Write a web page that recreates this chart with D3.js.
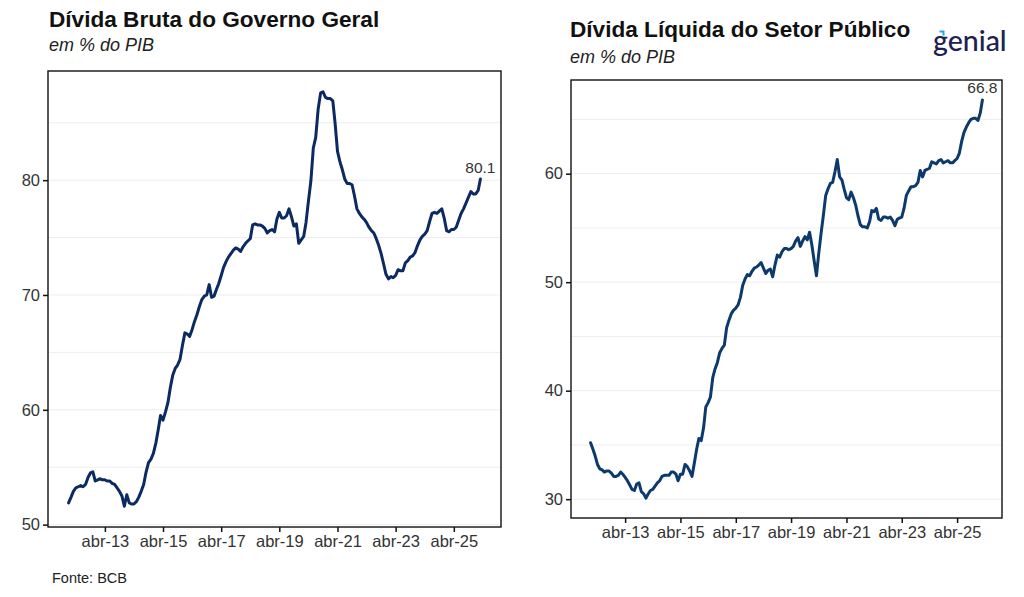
<!DOCTYPE html>
<html>
<head>
<meta charset="utf-8">
<script src="https://cdn.jsdelivr.net/npm/d3@7"></script>
<style>
  html, body { margin: 0; padding: 0; background: #fff; }
  svg { display: block; font-family: "Liberation Sans", Arial, sans-serif; }
</style>
</head>
<body>
<svg id="chart" width="1024" height="597"></svg>
<script>
// ---------- DATA ----------
const startMonth = new Date(2012, 0, 1);
const endMonthExclusive = new Date(2026, 3, 1);

const dividaBruta = [
  51.9,52.4,52.9,53.2,53.3,53.4,53.3,53.5,54.1,54.5,54.6,53.8,
  53.9,54.0,53.9,53.9,53.8,53.8,53.6,53.5,53.2,52.9,52.5,51.6,
  52.6,51.9,51.8,51.8,52.0,52.4,52.9,53.5,54.6,55.4,55.7,56.2,
  57.1,58.3,59.5,59.1,59.8,60.6,61.9,63.0,63.6,63.9,64.4,65.6,
  66.7,66.6,66.4,67.0,67.7,68.3,69.0,69.6,69.9,70.0,70.9,69.8,
  69.9,70.5,71.0,71.7,72.4,72.9,73.3,73.6,73.9,74.1,74.0,73.8,
  74.2,74.5,74.7,74.9,76.1,76.2,76.1,76.1,76.0,75.8,75.4,75.6,
  75.7,75.5,76.6,77.2,76.7,76.7,76.9,77.5,76.8,76.0,76.2,74.5,
  74.8,75.1,76.3,78.2,79.9,82.8,83.7,86.2,87.6,87.7,87.2,87.1,
  87.1,86.9,85.0,82.5,81.6,80.9,80.1,79.7,79.7,79.6,78.6,77.5,
  77.1,76.8,76.6,76.3,75.9,75.6,75.4,74.9,74.3,73.6,72.7,71.8,
  71.4,71.6,71.5,71.7,72.2,72.1,72.1,72.8,73.0,73.3,73.4,73.7,
  74.3,74.8,75.1,75.3,75.6,76.4,77.1,77.2,77.1,77.3,77.5,76.7,
  75.6,75.5,75.7,75.7,75.9,76.5,77.1,77.5,78.0,78.5,79.0,78.8,
  78.8,79.1,80.1
];

const dividaLiquida = [
  35.2,34.6,34.0,33.2,32.8,32.7,32.5,32.6,32.6,32.4,32.1,32.1,
  32.2,32.5,32.3,32.0,31.7,31.3,30.9,30.8,31.4,31.5,30.7,30.5,
  30.1,30.5,30.8,30.9,31.2,31.5,31.7,32.1,32.2,32.2,32.2,32.5,
  32.5,32.3,31.7,32.3,32.3,33.2,33.0,32.6,32.1,33.3,34.6,35.6,
  35.4,36.6,38.5,38.9,39.4,41.2,42.0,42.6,43.5,43.9,44.2,45.8,
  46.5,47.1,47.4,47.6,47.9,48.6,49.7,50.3,50.7,50.6,51.0,51.3,
  51.4,51.6,51.8,51.3,50.8,51.1,51.2,50.5,51.6,52.5,52.3,52.8,
  53.1,53.1,53.0,53.1,53.3,53.8,54.1,53.3,53.8,54.2,53.9,54.6,
  53.4,51.9,50.6,52.7,54.5,56.2,58.0,58.6,59.1,59.2,60.2,61.3,
  59.7,59.4,58.6,57.8,57.6,58.3,57.8,57.1,56.1,55.3,55.1,55.1,
  55.0,55.6,56.6,56.5,56.8,55.8,55.7,56.0,56.0,55.9,56.0,55.7,
  55.2,55.8,55.9,56.0,56.8,58.0,58.4,58.8,58.8,58.9,59.2,60.3,
  59.7,60.3,60.4,60.5,61.1,61.0,60.9,61.2,61.3,61.0,61.1,61.2,
  61.0,61.0,61.2,61.4,61.9,63.0,63.8,64.3,64.7,65.0,65.1,65.1,
  64.9,65.6,66.8
];

const xTickDates = ["2013-04","2015-04","2017-04","2019-04","2021-04","2023-04","2025-04"];
const xTickLabels = ["abr-13","abr-15","abr-17","abr-19","abr-21","abr-23","abr-25"];

const leftYTicks = [50, 60, 70, 80];
const leftYGrid = [50, 55, 60, 65, 70, 75, 80, 85];
const rightYTicks = [30, 40, 50, 60];
const rightYGrid = [30, 35, 40, 45, 50, 55, 60, 65];

const leftTitle = "Dívida Bruta do Governo Geral";
const rightTitle = "Dívida Líquida do Setor Público";
const subtitle = "em % do PIB";
const source = "Fonte: BCB";

// ---------- DRAW ----------
const svg = d3.select("#chart");
svg.append("rect").attr("width", 1024).attr("height", 597).attr("fill", "#fff");

const months = d3.timeMonth.range(startMonth, endMonthExclusive);
const parseM = d3.timeParse("%Y-%m");

function expand(ext, f = 0.05) {
  const a = +ext[0], b = +ext[1], pad = (b - a) * f;
  return [a - pad, b + pad];
}

function panel(cfg) {
  const { x0, x1, y0, y1, values, yTicks, yGrid, color, label, title, titleX, titleY, subY } = cfg;
  const data = months.map((d, i) => ({ date: d, v: values[i] }));
  const xd = expand(d3.extent(months));
  const x = d3.scaleTime().domain([new Date(xd[0]), new Date(xd[1])]).range([x0, x1]);
  const y = d3.scaleLinear().domain(expand(d3.extent(values))).range([y1, y0]);

  const g = svg.append("g");

  // grid
  g.selectAll(".grid").data(yGrid).join("line")
    .attr("x1", x0).attr("x2", x1)
    .attr("y1", d => y(d)).attr("y2", d => y(d))
    .attr("stroke", "#ededed").attr("stroke-width", 1);

  // line
  g.append("path").datum(data)
    .attr("fill", "none").attr("stroke", color).attr("stroke-width", 3)
    .attr("stroke-linejoin", "round").attr("stroke-linecap", "round")
    .attr("d", d3.line().x(d => x(d.date)).y(d => y(d.v)));

  // end label
  const last = data[data.length - 1];
  g.append("text").attr("x", x(last.date)).attr("y", y(last.v) - 6.5)
    .attr("text-anchor", "middle").attr("font-size", 15.5).attr("fill", "#333")
    .text(label);

  // border
  g.append("rect").attr("x", x0).attr("y", y0).attr("width", x1 - x0).attr("height", y1 - y0)
    .attr("fill", "none").attr("stroke", "#111").attr("stroke-width", 1.4);

  // axes
  const ya = g.append("g").attr("transform", `translate(${x0},0)`)
    .call(d3.axisLeft(y).tickValues(yTicks).tickSize(5).tickPadding(3).tickFormat(d3.format("d")));
  ya.select(".domain").remove();
  ya.selectAll("line").attr("stroke", "#111").attr("stroke-width", 1.5);
  ya.selectAll("text").attr("font-size", 16.5).attr("fill", "#333")
    .attr("font-family", "Liberation Sans, Arial, sans-serif");

  const tickDates = xTickDates.map(parseM);
  const xa = g.append("g").attr("transform", `translate(0,${y1})`)
    .call(d3.axisBottom(x).tickValues(tickDates).tickSize(5).tickPadding(3)
      .tickFormat((d, i) => xTickLabels[i]));
  xa.select(".domain").remove();
  xa.selectAll("line").attr("stroke", "#111").attr("stroke-width", 1.5);
  xa.selectAll("text").attr("font-size", 16.5).attr("fill", "#333")
    .attr("font-family", "Liberation Sans, Arial, sans-serif");

  // titles
  svg.append("text").attr("x", titleX).attr("y", titleY)
    .attr("font-size", 22.6).attr("font-weight", "bold").attr("fill", "#111").text(title);
  svg.append("text").attr("x", titleX).attr("y", subY)
    .attr("font-size", 18).attr("font-style", "italic").attr("fill", "#222").text(subtitle);
}

panel({
  x0: 48, x1: 501, y0: 71, y1: 527,
  values: dividaBruta, yTicks: leftYTicks, yGrid: leftYGrid,
  color: "#0b2a62", label: "80.1",
  title: leftTitle, titleX: 49, titleY: 27, subY: 51
});

panel({
  x0: 571, x1: 1002, y0: 80, y1: 518,
  values: dividaLiquida, yTicks: rightYTicks, yGrid: rightYGrid,
  color: "#0d3a6c", label: "66.8",
  title: rightTitle, titleX: 570, titleY: 37, subY: 63
});

// source
svg.append("text").attr("x", 52).attr("y", 583).attr("font-size", 14.5).attr("fill", "#222").text(source);

// logo
const logo = svg.append("g");
logo.append("text").attr("x", 933).attr("y", 51)
  .attr("font-family", "Lato, 'Open Sans', sans-serif").attr("font-size", 28.5).attr("font-weight", 500)
  .attr("fill", "#1c2150").text("genial");
logo.append("path").attr("d", "M939.5,31.5 L943.5,31.5 L943.5,35.5")
  .attr("fill", "none").attr("stroke", "#2aa7e0").attr("stroke-width", 2);
</script>
</body>
</html>
